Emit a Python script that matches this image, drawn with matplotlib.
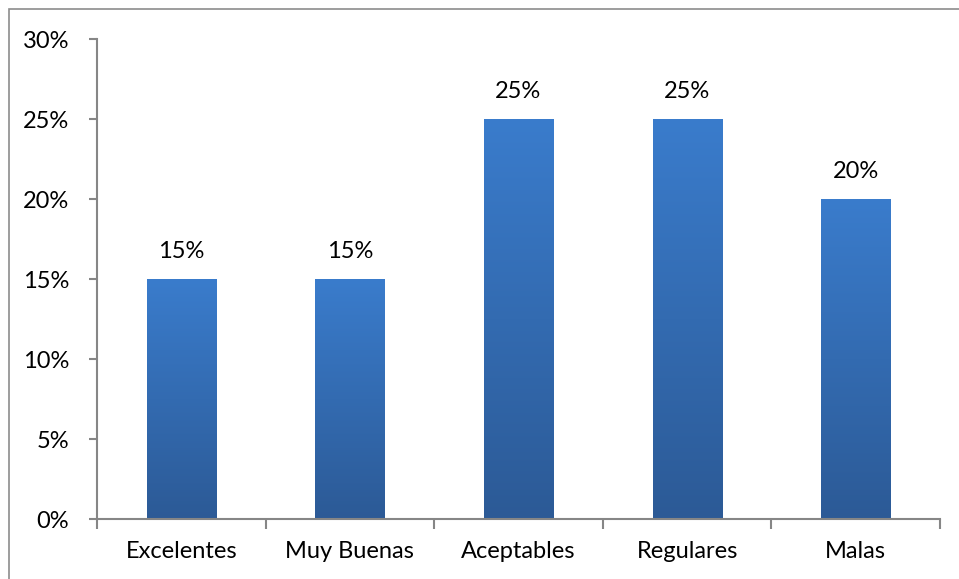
import numpy as np
import matplotlib.pyplot as plt
from matplotlib.patches import Rectangle
from matplotlib.colors import LinearSegmentedColormap

plt.rcParams['font.family'] = ['Lato', 'DejaVu Sans']

categorias = ["Excelentes", "Muy Buenas", "Aceptables", "Regulares", "Malas"]
porcentajes = [15, 15, 25, 25, 20]
ticks_y = [0, 5, 10, 15, 20, 25, 30]

W, H = 959, 579
fig = plt.figure(figsize=(W / 100, H / 100), dpi=100)
ax = fig.add_axes([97 / W, 1 - 519 / H, (940 - 97) / W, (519 - 39) / H])

# marco exterior del grafico
fig.patches.append(Rectangle((8.5 / W, -0.1), 2, 1 - 8.5 / H + 0.1, transform=fig.transFigure,
                             fill=False, edgecolor="#8c8c8c", linewidth=1.2))

grad = LinearSegmentedColormap.from_list("azul", ["#2c5a96", "#3a7ccc"])
x = np.arange(len(categorias))
ancho = 0.41
barras = ax.bar(x, porcentajes, width=ancho, color="none", zorder=2)
for b, v in zip(barras, porcentajes):
    x0 = b.get_x()
    ax.imshow(np.linspace(0, 1, 256).reshape(-1, 1), cmap=grad, origin="lower",
              extent=[x0, x0 + ancho, 0, v], aspect="auto", zorder=2)
    ax.annotate(f"{v}%", (x0 + ancho / 2, v), xytext=(0, 20), textcoords="offset points",
                ha="center", va="center", fontsize=17)

ax.set_xlim(-0.5, len(categorias) - 0.5)
ax.set_ylim(0, 30)
ax.set_yticks(ticks_y)
ax.set_yticklabels([f"{t}%" for t in ticks_y], fontsize=17)
ax.set_xticks(x)
ax.set_xticklabels(categorias, fontsize=17)
ax.tick_params(axis="x", length=0, pad=16)
ax.tick_params(axis="y", length=6, width=1.5, color="#868686", pad=14)
ax.set_xticks(np.arange(-0.5, len(categorias)), minor=True)
ax.tick_params(axis="x", which="minor", length=7, width=1.5, color="#868686", direction="out")

for s in ["top", "right"]:
    ax.spines[s].set_visible(False)
for s in ["left", "bottom"]:
    ax.spines[s].set_color("#868686")
    ax.spines[s].set_linewidth(1.5)

fig.savefig("out.png", dpi=100)
